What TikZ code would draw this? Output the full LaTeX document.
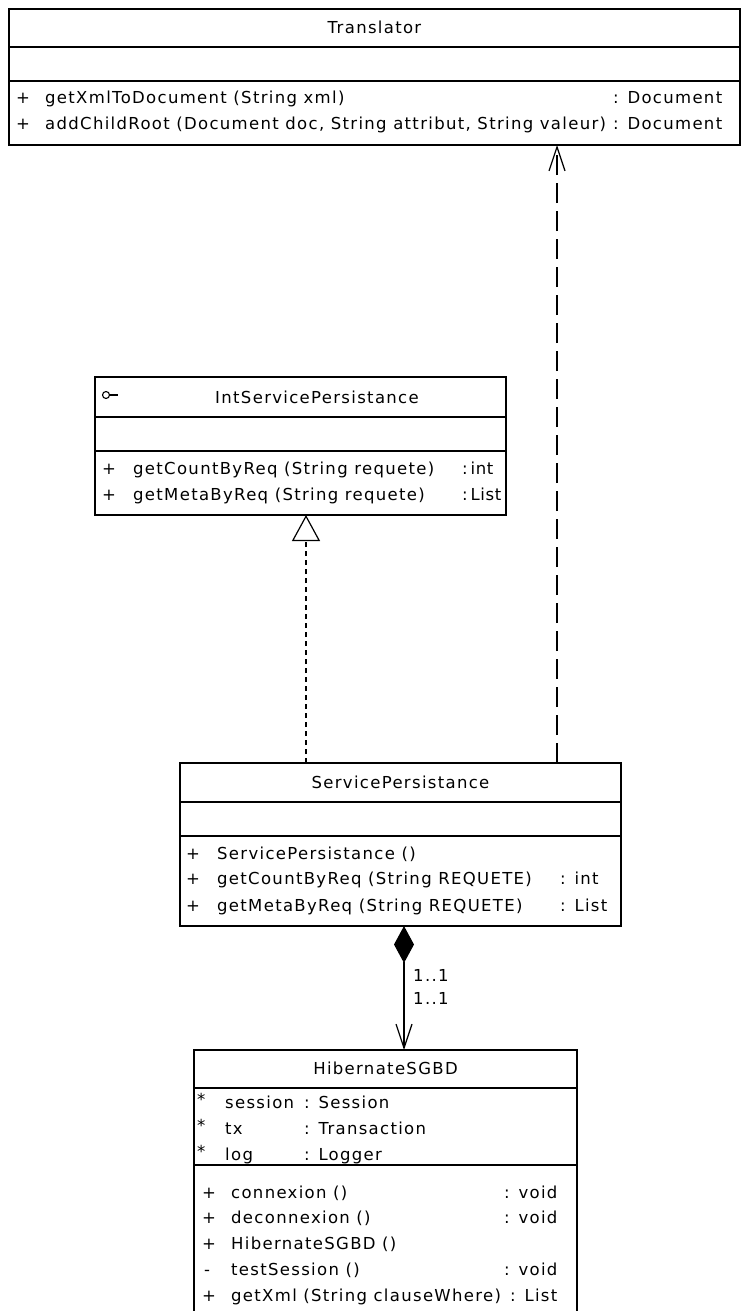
\documentclass[tikz,border=0pt]{standalone}
\usepackage{fontspec}
\setmainfont{DejaVu Sans}[LetterSpace=8]
\usetikzlibrary{arrows.meta}
\tikzset{
  classbox/.style={draw, line width=1.4pt, inner sep=0pt, outer sep=0pt},
  sepline/.style={line width=1.4pt},
  txt/.style={anchor=base west, inner sep=0pt, font=\fontsize{16.5}{19}\selectfont},
  ttl/.style={anchor=base, inner sep=0pt, font=\fontsize{16.5}{19}\selectfont},
  depend/.style={line width=1.2pt, dash pattern=on 20pt off 8pt, -{Straight Barb[length=24pt,width=16pt,line width=1.2pt]}},
  realize/.style={line width=1.2pt, dash pattern=on 5pt off 4pt, -{Triangle[open,length=26pt,width=28pt,line width=1.2pt,fill=white]}},
  compose/.style={line width=1.2pt, {Diamond[length=37pt,width=20pt]}-{Straight Barb[length=24pt,width=16pt,line width=1.2pt]}},
}
\begin{document}
\begin{tikzpicture}[x=1pt,y=-1pt]
\useasboundingbox (0,0) rectangle (741,1311);
\clip (0,0) rectangle (741,1311);
\fill[white] (0,0) rectangle (741,1311);

% ---------------- Translator
\node[classbox, minimum width=731pt, minimum height=136pt] (tr) at (374.5,77) {};
\draw[sepline] (9,47) -- (740,47);
\draw[sepline] (9,81) -- (740,81);
\node[ttl] (trT) at (374.5,34) {Translator};
\node[txt] (tr1p) at (16,104) {+};
\node[txt] (tr1) at (45,104) {getXmlToDocument (String xml)};
\node[txt] (tr1r) at (613,104) {: Document};
\node[txt] (tr2p) at (16,129) {+};
\node[txt] (tr2) at (45,129) {addChildRoot (Document doc, String attribut, String valeur)};
\node[txt] (tr2r) at (613,129) {: Document};

% ---------------- IntServicePersistance
\node[classbox, minimum width=411pt, minimum height=138pt] (isp) at (300.5,446) {};
\draw[sepline] (95,417) -- (506,417);
\draw[sepline] (95,451) -- (506,451);
\draw[line width=1.1pt] (106,395) circle (3.5pt);
\draw[line width=1.1pt] (109.5,395) -- (118,395);
\node[ttl] (ispT) at (317,403) {IntServicePersistance};
\node[txt] (isp1p) at (102,474) {+};
\node[txt] (isp1) at (133,474) {getCountByReq (String requete)};
\node[txt] (isp1r) at (462,474) {\addfontfeature{LetterSpace=4}:\,int};
\node[txt] (isp2p) at (102,500) {+};
\node[txt] (isp2) at (133,500) {getMetaByReq (String requete)};
\node[txt] (isp2r) at (462,500) {\addfontfeature{LetterSpace=4}:\,List};

% ---------------- ServicePersistance
\node[classbox, minimum width=441pt, minimum height=163pt] (sp) at (400.5,844.5) {};
\draw[sepline] (180,802) -- (621,802);
\draw[sepline] (180,836) -- (621,836);
\node[ttl] (spT) at (400.5,788) {ServicePersistance};
\node[txt] (sp1p) at (186,859) {+};
\node[txt] (sp1) at (217,859) {ServicePersistance ()};
\node[txt] (sp2p) at (186,884) {+};
\node[txt] (sp2) at (217,884) {getCountByReq (String REQUETE)};
\node[txt] (sp2r) at (560,884) {: int};
\node[txt] (sp3p) at (186,911) {+};
\node[txt] (sp3) at (217,911) {getMetaByReq (String REQUETE)};
\node[txt] (sp3r) at (560,911) {: List};

% ---------------- HibernateSGBD
\node[classbox, minimum width=383pt, minimum height=280pt] (hib) at (385.5,1190) {};
\draw[sepline] (194,1088) -- (577,1088);
\draw[sepline] (194,1165) -- (577,1165);
\node[ttl] (hibT) at (385.5,1074) {HibernateSGBD};
\node[txt] (h1s) at (197,1105) {*};
\node[txt] (h1) at (225,1108) {session};
\node[txt] (h1r) at (304,1108) {: Session};
\node[txt] (h2s) at (197,1131) {*};
\node[txt] (h2) at (225,1134) {tx};
\node[txt] (h2r) at (304,1134) {: Transaction};
\node[txt] (h3s) at (197,1157) {*};
\node[txt] (h3) at (225,1160) {log};
\node[txt] (h3r) at (304,1160) {: Logger};
\node[txt] (m1p) at (202,1198) {+};
\node[txt] (m1) at (231,1198) {connexion ()};
\node[txt] (m1r) at (504,1198) {: void};
\node[txt] (m2p) at (202,1223) {+};
\node[txt] (m2) at (231,1223) {deconnexion ()};
\node[txt] (m2r) at (504,1223) {: void};
\node[txt] (m3p) at (202,1249) {+};
\node[txt] (m3) at (231,1249) {HibernateSGBD ()};
\node[txt] (m4p) at (204,1275) {-};
\node[txt] (m4) at (231,1275) {testSession ()};
\node[txt] (m4r) at (504,1275) {: void};
\node[txt] (m5p) at (202,1301) {+};
\node[txt] (m5) at (231,1301) {getXml (String clauseWhere)};
\node[txt] (m5r) at (510,1301) {: List};

% ---------------- connectors
\coordinate (cdep) at (557,0);
\coordinate (creal) at (306,0);
\coordinate (ccomp) at (404,0);
\draw[depend] (sp.north -| cdep) -- (tr.south -| cdep);
\draw[realize] (sp.north -| creal) -- (isp.south -| creal);
\draw[compose] (sp.south -| ccomp) -- (hib.north -| ccomp);
\node[txt] (mult1) at (413,981) {1..1};
\node[txt] (mult2) at (413,1004) {1..1};
\end{tikzpicture}
\end{document}
